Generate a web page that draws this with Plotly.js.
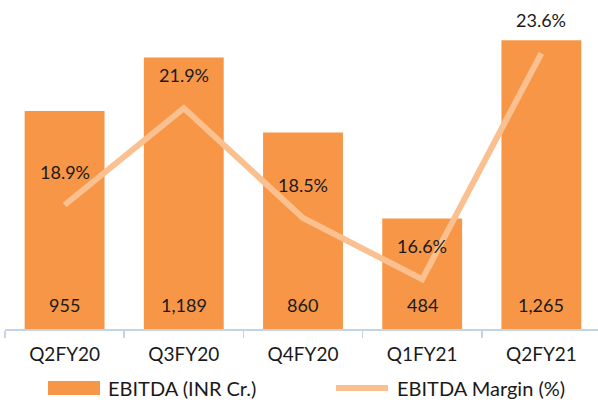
<!DOCTYPE html>
<html><head><meta charset="utf-8">
<script src="https://cdn.plot.ly/plotly-3.0.1.min.js"></script>
<style>body{margin:0;background:#fff}#c{width:598px;height:405px}</style>
</head><body><div id="c"></div>
<script>
const categories = ["Q2FY20","Q3FY20","Q4FY20","Q1FY21","Q2FY21"];
const ebitda = [955, 1189, 860, 484, 1265];
const ebitdaLabels = ["955","1,189","860","484","1,265"];
const margin = [18.9, 21.9, 18.5, 16.6, 23.6];
const marginLabels = ["18.9%","21.9%","18.5%","16.6%","23.6%"];

const FONT = "Lato, 'Open Sans', sans-serif";
const txt = "#1a1a1a";

const bars = {
  type: "bar", x: categories, y: ebitda, name: "EBITDA (INR Cr.)",
  marker: {color: "#F79646"}, width: 0.67, hoverinfo: "skip", showlegend: false
};
const line = {
  type: "scatter", mode: "lines", x: categories, y: margin, yaxis: "y2",
  name: "EBITDA Margin (%)", line: {color: "#FAC090", width: 6}, hoverinfo: "skip", showlegend: false
};

const annotations = [];
categories.forEach((c, i) => {
  annotations.push({x: c, y: 0, xref: "x", yref: "y", text: ebitdaLabels[i], showarrow: false,
    yanchor: "middle", yshift: 24, font: {family: FONT, size: 18, color: txt}});
  annotations.push({x: c, y: margin[i], xref: "x", yref: "y2", text: marginLabels[i], showarrow: false,
    yanchor: "middle", yshift: 33, font: {family: FONT, size: 18, color: txt}});
});
// custom legend
const legY = (329 - 388) / 319;
annotations.push({xref: "paper", yref: "paper", x: (106-5)/593, y: legY, text: "EBITDA (INR Cr.)",
  showarrow: false, xanchor: "left", yanchor: "middle", font: {family: FONT, size: 20, color: txt}});
annotations.push({xref: "paper", yref: "paper", x: (395-5)/593, y: legY, text: "EBITDA Margin (%)",
  showarrow: false, xanchor: "left", yanchor: "middle", font: {family: FONT, size: 20, color: txt}});

const shapes = [
  {type: "rect", xref: "paper", yref: "paper", x0: (48-5)/593, x1: (100-5)/593,
   y0: (329-395)/319, y1: (329-381)/319, fillcolor: "#F79646", line: {width: 0}},
  {type: "line", xref: "paper", yref: "paper", x0: (336-5)/593, x1: (388-5)/593,
   y0: legY, y1: legY, line: {color: "#FAC090", width: 6}}
];

const layout = {
  width: 598, height: 405,
  margin: {l: 5, r: 0, t: 10, b: 76},
  paper_bgcolor: "#fff", plot_bgcolor: "#fff",
  font: {family: FONT, size: 18, color: txt},
  showlegend: false,
  xaxis: {type: "category", range: [-0.5, 4.475], showline: true, linecolor: "#C3D3E8", linewidth: 1.5,
    ticks: "outside", tickson: "boundaries", ticklen: 7, tickcolor: "#C3D3E8", tickwidth: 1.5,
    ticklabelstandoff: 8,
    tickfont: {family: FONT, size: 19, color: txt}, showgrid: false, zeroline: false, fixedrange: true},
  yaxis: {range: [0, 1397], visible: false, showgrid: false, zeroline: false, fixedrange: true},
  yaxis2: {range: [15.06, 24.94], overlaying: "y", side: "right", visible: false, showgrid: false, zeroline: false},
  annotations: annotations, shapes: shapes
};
Plotly.newPlot("c", [bars, line], layout, {displayModeBar: false, staticPlot: true});
</script></body></html>
